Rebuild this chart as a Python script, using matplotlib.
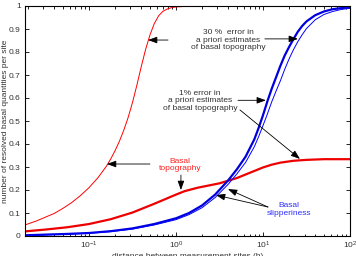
import matplotlib
matplotlib.use("Agg")
import matplotlib.pyplot as plt
from matplotlib.ticker import LogLocator, NullFormatter, FixedLocator

plt.rcParams['font.family'] = ['Liberation Sans', 'DejaVu Sans']

# thin red: basal topography, 30 % error
topo30_x = [0.01837, 0.02512, 0.03162, 0.03981, 0.05012, 0.0631, 0.07943, 0.1, 0.1259,
            0.1585, 0.1778, 0.1995, 0.2239, 0.2512, 0.2818, 0.3162, 0.3548, 0.3981,
            0.4467, 0.5012, 0.5623, 0.631, 0.7079, 0.7943, 0.8913, 1.0, 1.259, 1.995, 100]
topo30_y = [0.048, 0.066, 0.082, 0.098, 0.12, 0.145, 0.175, 0.21, 0.252,
            0.303, 0.335, 0.371, 0.412, 0.46, 0.515, 0.58, 0.655, 0.735,
            0.81, 0.873, 0.923, 0.957, 0.977, 0.987, 0.993, 0.996, 0.998, 1.0, 1.0]

# thick red: basal topography, 1 % error
topo1_x = [0.01837, 0.03162, 0.05623, 0.1, 0.1778, 0.3162, 0.5623, 1.0, 1.259, 1.778,
           3.162, 5.012, 7.079, 10.0, 12.59, 15.85, 22.39, 31.62, 50.12, 100]
topo1_y = [0.02, 0.028, 0.038, 0.052, 0.073, 0.102, 0.14, 0.18, 0.195, 0.21,
           0.229, 0.252, 0.275, 0.298, 0.31, 0.319, 0.327, 0.331, 0.334, 0.334]

# blue curves share the same distances
slip_x = [0.01837, 0.03162, 0.05623, 0.1, 0.1778, 0.3162, 0.5623, 1.0, 1.413, 1.995,
          2.818, 3.981, 5.012, 6.31, 7.943, 8.913, 10.0, 11.22, 12.59, 14.13, 15.85,
          17.78, 19.95, 22.39, 25.12, 28.18, 31.62, 39.81, 50.12, 63.1, 79.43, 100]
# thick blue: basal slipperiness, 1 % error
slip1_y = [0.003, 0.006, 0.009, 0.013, 0.021, 0.033, 0.052, 0.077, 0.1, 0.133,
           0.18, 0.242, 0.29, 0.345, 0.42, 0.47, 0.525, 0.585, 0.64, 0.69, 0.74,
           0.785, 0.822, 0.856, 0.888, 0.913, 0.933, 0.96, 0.976, 0.986, 0.991, 0.994]
# thin blue: basal slipperiness, 30 % error
slip30_y = [0.002, 0.005, 0.008, 0.012, 0.019, 0.03, 0.048, 0.071, 0.093, 0.123,
            0.167, 0.225, 0.27, 0.32, 0.388, 0.432, 0.48, 0.53, 0.583, 0.63, 0.675,
            0.725, 0.77, 0.81, 0.845, 0.875, 0.902, 0.94, 0.963, 0.976, 0.985, 0.99]

y_ticks = [0, 0.1, 0.2, 0.3, 0.4, 0.5, 0.6, 0.7, 0.8, 0.9, 1]
y_tick_labels = ['0', '0.1', '0.2', '0.3', '0.4', '0.5', '0.6', '0.7', '0.8', '0.9', '1']

fig = plt.figure(figsize=(3.56, 2.56), dpi=100)
ax = fig.add_axes([25/356, 1-236/256, 325/356, 230/256])

ax.plot(topo30_x, topo30_y, color='#ff0000', lw=0.7)
ax.plot(topo1_x, topo1_y, color='#ee0000', lw=1.6)
ax.plot(slip_x, slip1_y, color='#0000dd', lw=1.6)
ax.plot(slip_x, slip30_y, color='#0000ff', lw=0.7)

ax.set_xscale('log')
ax.set_xlim(0.0184, 100)
ax.set_ylim(0, 1)
ax.set_yticks(y_ticks)
ax.set_yticklabels(y_tick_labels)
ax.xaxis.set_major_locator(FixedLocator([0.1, 1, 10, 100]))
ax.xaxis.set_minor_locator(LogLocator(base=10, subs=range(2, 10), numticks=20))
ax.xaxis.set_minor_formatter(NullFormatter())
ax.tick_params(which='both', direction='in', top=True, right=True,
               labelsize=6, labelcolor='#333333', width=0.6, pad=3)
ax.tick_params(which='major', length=3)
ax.tick_params(which='minor', length=1.8)
for s in ax.spines.values():
    s.set_linewidth(0.8)

ax.set_xlabel('distance between measurement sites (h)', fontsize=6, color='#333333', labelpad=1)
ax.set_ylabel('number of resolved basal quantities per site', fontsize=6, color='#333333')
ax.yaxis.set_label_coords(-0.05, 0.5)

ap = dict(arrowstyle='-|>,head_length=0.55,head_width=0.2', color='black', lw=0.6,
          shrinkA=0, shrinkB=0)
fs = 6

# 30 % error labels
ax.text(3.96, 0.852, '30 %  error in\na priori estimates\nof basal topography',
        fontsize=fs, color='#333333', ha='center', va='center', linespacing=1.1)
ax.annotate('', xy=(25.2, 0.857), xytext=(10.5, 0.857), arrowprops=ap)
ax.annotate('', xy=(0.477, 0.852), xytext=(0.81, 0.852), arrowprops=ap)

# 1 % error labels
ax.text(1.9, 0.588, '1% error in\na priori estimates\nof basal topography',
        fontsize=fs, color='#333333', ha='center', va='center', linespacing=1.1)
ax.annotate('', xy=(10.8, 0.59), xytext=(5.16, 0.59), arrowprops=ap)
ax.annotate('', xy=(26.6, 0.335), xytext=(5.44, 0.548), arrowprops=ap)

# Basal topography
ax.text(1.11, 0.309, 'Basal\ntopography', fontsize=fs, color='#ff2020',
        ha='center', va='center', linespacing=1.1)
ax.annotate('', xy=(0.161, 0.313), xytext=(0.502, 0.313), arrowprops=ap)
ax.annotate('', xy=(1.14, 0.2), xytext=(1.14, 0.265), arrowprops=ap)

# Basal slipperiness
ax.text(19.9, 0.115, 'Basal\nslipperiness', fontsize=fs, color='#3030ff',
        ha='center', va='center', linespacing=1.1)
ax.annotate('', xy=(3.96, 0.204), xytext=(11.4, 0.126), arrowprops=ap)
ax.annotate('', xy=(2.88, 0.178), xytext=(11.4, 0.126), arrowprops=ap)

fig.savefig('out.png', dpi=100)
